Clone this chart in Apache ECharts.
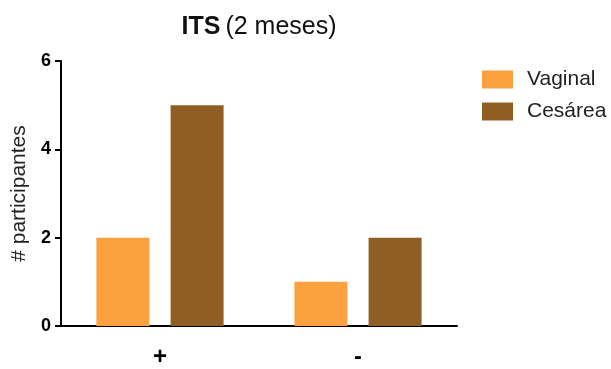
<!DOCTYPE html>
<html><head><meta charset="utf-8">
<script src="https://cdn.jsdelivr.net/npm/echarts@6/dist/echarts.min.js"></script>
<style>html,body{margin:0;padding:0;background:#fff}#c{width:611px;height:369px}</style>
</head><body><div id="c"></div>
<script>
const categories = ['+', '-'];
const vaginal = [2, 1];
const cesarea = [5, 2];
const yTicks = [0, 2, 4, 6];

const FONT = "'Liberation Sans', Arial, sans-serif";
const chart = echarts.init(document.getElementById('c'));
chart.setOption({
  animation: false,
  backgroundColor: '#fff',
  title: {
    text: '{b|ITS} {n|(2 meses)}',
    left: 254, top: 10, textAlign: 'center',
    textStyle: { fontWeight: 'normal', fontFamily: FONT, rich: {
      b: { fontFamily: FONT, fontWeight: 'bold', fontSize: 25, color: '#111' },
      n: { fontFamily: FONT, fontWeight: 'normal', fontSize: 25, color: '#111' }
    } }
  },
  legend: {
    orient: 'vertical', left: 477, top: 64,
    icon: 'rect',
    itemWidth: 31, itemHeight: 18, itemGap: 11,
    textStyle: { fontFamily: FONT, fontSize: 21, color: '#222', padding: [0,0,0,9] },
    data: ['Vaginal', 'Cesárea']
  },
  grid: { left: 61, right: 154, top: 61, bottom: 43, containLabel: false },
  xAxis: {
    type: 'category', data: categories,
    axisLine: { lineStyle: { color: '#000', width: 2 } },
    axisTick: { alignWithLabel: true, length: 7, lineStyle: { color: '#000', width: 2 } },
    axisLabel: { fontFamily: FONT, fontWeight: 'bold', fontSize: 24, color: '#000', margin: 19 }
  },
  yAxis: {
    type: 'value', min: 0, max: 6, interval: 2,
    name: '# participantes', nameLocation: 'middle', nameGap: 30, nameRotate: 90,
    nameTextStyle: { fontFamily: FONT, fontSize: 21, color: '#222' },
    axisLine: { show: true, lineStyle: { color: '#000', width: 2 } },
    axisTick: { show: true, length: 6, lineStyle: { color: '#000', width: 2 } },
    splitLine: { show: false },
    axisLabel: { fontFamily: FONT, fontWeight: 'bold', fontSize: 18, color: '#000', margin: 10,
      formatter: v => yTicks.includes(v) ? String(v) : '' }
  },
  series: [
    { name: 'Vaginal', type: 'bar', data: vaginal, barWidth: 53, barGap: '40%', itemStyle: { color: '#FBA13F' } },
    { name: 'Cesárea', type: 'bar', data: cesarea, barWidth: 53, barGap: '40%', itemStyle: { color: '#8F5E22' } }
  ]
});
</script></body></html>
